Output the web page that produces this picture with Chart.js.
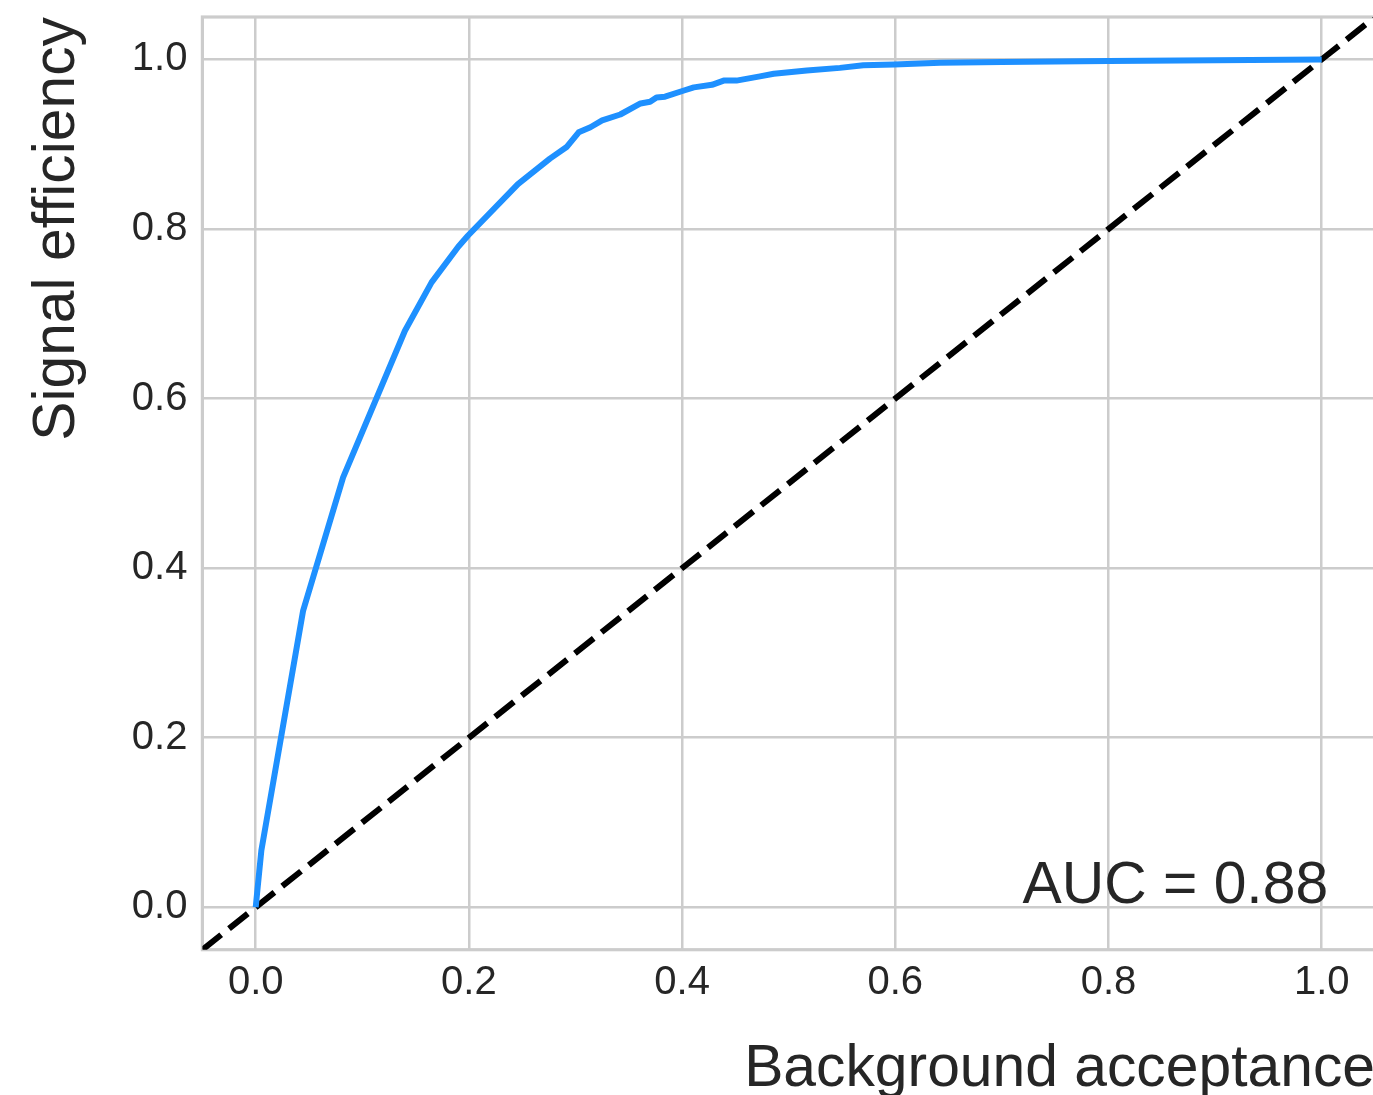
<!DOCTYPE html>
<html lang="en">
<head>
    <meta charset="UTF-8">
    <title>ROC curve</title>
    <script src="https://cdn.jsdelivr.net/npm/chart.js"></script>
    <style>
        html, body { margin: 0; padding: 0; background: #fff; overflow: hidden; }
        .chart-container { position: relative; width: 1375px; height: 1095px; }
    </style>
</head>
<body>
    <div class="chart-container">
        <canvas id="rocChart"></canvas>
    </div>

    <script>
        // ROC curve
        const bkgAcceptance = [0, 0.0053, 0.0445, 0.082, 0.140, 0.165, 0.190, 0.199, 0.246, 0.276,
            0.292, 0.303, 0.314, 0.325, 0.342, 0.361, 0.370, 0.376, 0.384, 0.401,
            0.411, 0.428, 0.439, 0.451, 0.473, 0.486, 0.517, 0.548, 0.570, 0.599,
            0.642, 0.700, 0.800, 0.900, 1.0];
        const sigEfficiency = [0, 0.067, 0.350, 0.507, 0.680, 0.737, 0.779, 0.792, 0.853, 0.883,
            0.897, 0.914, 0.920, 0.928, 0.935, 0.948, 0.950, 0.955, 0.956, 0.963,
            0.967, 0.970, 0.975, 0.975, 0.980, 0.983, 0.987, 0.990, 0.993, 0.994,
            0.996, 0.997, 0.998, 0.999, 1.0];

        // random-guess diagonal
        const diagX = [-0.05, 1.05];
        const diagY = [-0.05, 1.05];

        const xTicks = [0, 0.2, 0.4, 0.6, 0.8, 1.0];
        const yTicks = [0, 0.2, 0.4, 0.6, 0.8, 1.0];
        const axisMin = -0.05;
        const axisMax = 1.05;

        const aucLabel = 'AUC = 0.88';
        const aucPos = [1.006, 0.005];

        const FONT = "'Liberation Sans', Arial, sans-serif";
        const TEXT = '#262626';
        const GRID = '#cccccc';

        const framePlugin = {
            id: 'frame',
            beforeDatasetsDraw(chart) {
                const { ctx, chartArea: a } = chart;
                ctx.save();
                ctx.strokeStyle = GRID;
                ctx.lineWidth = 3.2;
                ctx.strokeRect(a.left, a.top, a.right - a.left, a.bottom - a.top);
                ctx.restore();
            },
            afterDatasetsDraw(chart) {
                const { ctx, scales } = chart;
                ctx.save();
                ctx.font = '58.8px ' + FONT;
                ctx.fillStyle = TEXT;
                ctx.textAlign = 'right';
                ctx.textBaseline = 'alphabetic';
                ctx.fillText(aucLabel, scales.x.getPixelForValue(aucPos[0]), scales.y.getPixelForValue(aucPos[1]));
                ctx.restore();
            }
        };

        // no extra room around the plot for half tick labels
        function noLabelPadding(s) {
            s.paddingTop = 0;
            s.paddingBottom = 0;
            s.paddingLeft = 0;
            s.paddingRight = 0;
        }

        new Chart(document.getElementById('rocChart'), {
            type: 'scatter',
            data: {
                datasets: [{
                    data: bkgAcceptance.map((x, i) => ({ x: x, y: sigEfficiency[i] })),
                    showLine: true,
                    borderColor: '#1e90ff',
                    borderWidth: 6,
                    borderJoinStyle: 'round',
                    pointRadius: 0,
                    tension: 0
                }, {
                    data: diagX.map((x, i) => ({ x: x, y: diagY[i] })),
                    showLine: true,
                    borderColor: '#000000',
                    borderWidth: 6,
                    borderDash: [24, 10],
                    pointRadius: 0,
                    tension: 0
                }]
            },
            options: {
                responsive: true,
                maintainAspectRatio: false,
                animation: false,
                layout: { padding: { top: 17, right: 0, bottom: 0, left: 0 } },
                plugins: { legend: { display: false }, tooltip: { enabled: false } },
                scales: {
                    x: {
                        type: 'linear',
                        min: axisMin,
                        max: axisMax,
                        afterBuildTicks: s => { s.ticks = xTicks.map(v => ({ value: v })); },
                        afterFit: s => { s.height = 145.3; noLabelPadding(s); },
                        grid: { color: GRID, lineWidth: 2.5, drawTicks: false },
                        border: { display: false },
                        ticks: {
                            padding: 9,
                            color: TEXT,
                            font: { family: FONT, size: 40 },
                            callback: v => v.toFixed(1)
                        },
                        title: {
                            display: true,
                            text: 'Background acceptance',
                            align: 'end',
                            color: TEXT,
                            font: { family: FONT, size: 58.8, lineHeight: 0.85 },
                            padding: 0
                        }
                    },
                    y: {
                        type: 'linear',
                        min: axisMin,
                        max: axisMax,
                        afterBuildTicks: s => { s.ticks = yTicks.map(v => ({ value: v })); },
                        afterFit: s => { s.width = 202.4; noLabelPadding(s); },
                        grid: { color: GRID, lineWidth: 2.5, drawTicks: false },
                        border: { display: false },
                        ticks: {
                            padding: 15,
                            color: TEXT,
                            font: { family: FONT, size: 40 },
                            callback: v => v.toFixed(1)
                        },
                        title: {
                            display: true,
                            text: 'Signal efficiency',
                            align: 'end',
                            color: TEXT,
                            font: { family: FONT, size: 58.8, lineHeight: 1.2 },
                            padding: { top: 23, bottom: 0 }
                        }
                    }
                }
            },
            plugins: [framePlugin]
        });
    </script>
</body>
</html>
